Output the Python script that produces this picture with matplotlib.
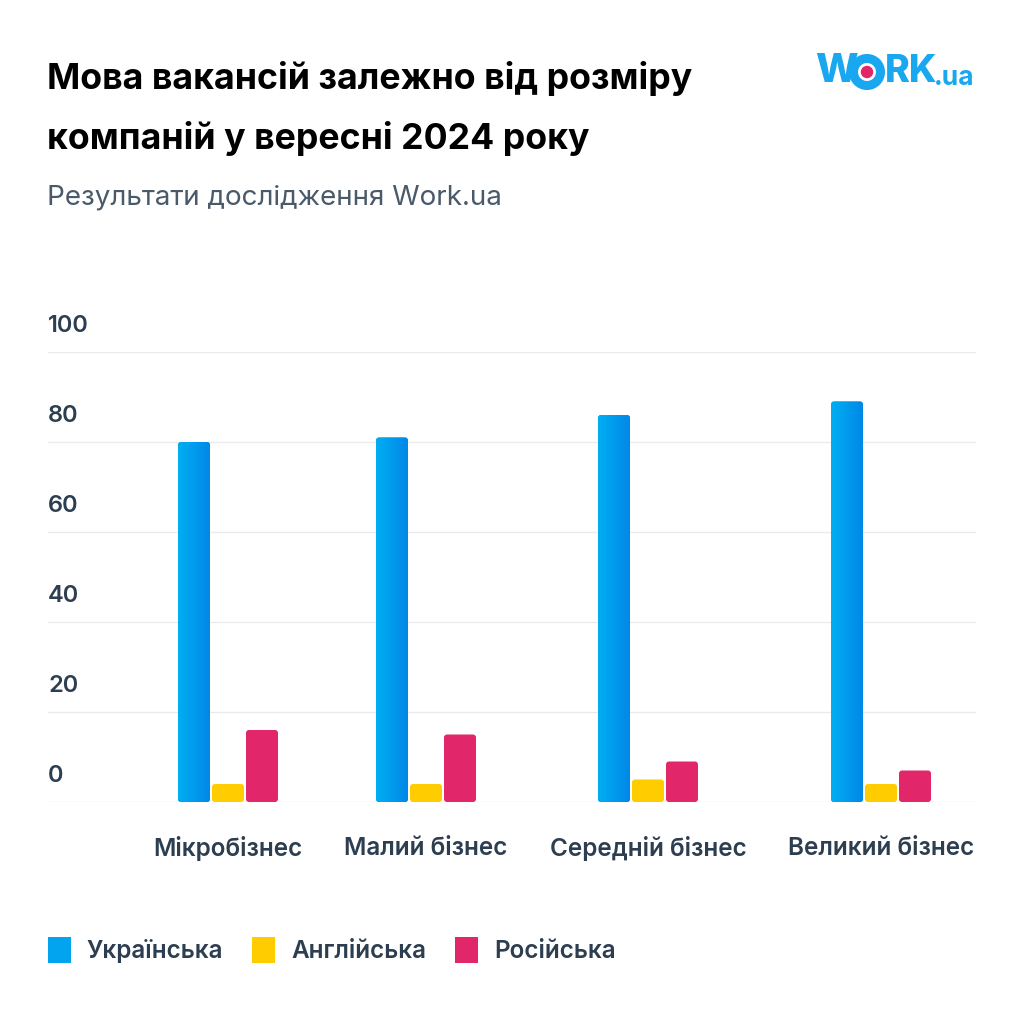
import matplotlib
matplotlib.use("Agg")
import matplotlib.pyplot as plt
import numpy as np
from matplotlib.patches import Circle, FancyBboxPatch, Patch
from matplotlib.colors import LinearSegmentedColormap

plt.rcParams['font.family'] = ['Inter', 'DejaVu Sans']

categories = ["Мікробізнес", "Малий бізнес", "Середній бізнес", "Великий бізнес"]
series_names = ["Українська", "Англійська", "Російська"]
ukrainian = [80, 81, 86, 89]
english = [4, 4, 5, 4]
russian = [16, 15, 9, 7]
y_ticks = [0, 20, 40, 60, 80, 100]

colors = ["#02a3ef", "#ffcc00", "#e2266a"]
text_col = "#2c3e50"
logo_col = "#19a7f0"

W = H = 1024
fig = plt.figure(figsize=(W / 100, H / 100), dpi=100)
fig.patch.set_facecolor("white")

def fx(px):
    return px / W

def fy(py):
    return 1 - py / H

# axes: x in pixel units so groups sit under their labels
ax = fig.add_axes([fx(48), fy(802), fx(976) - fx(48), fy(352) - fy(802)])
ax.set_xlim(48, 976)
ax.set_ylim(0, 100)
ax.axis("off")

for t in y_ticks:
    ax.axhline(t, color="#ebebeb", lw=1, zorder=0)
    ax.text(0, t + 3.3, str(t), transform=ax.get_yaxis_transform(),
            ha="left", va="bottom", fontsize=17, fontweight="semibold",
            color=text_col)

group_x = np.array([228, 426, 648, 881])
bw = 32
step = 34
grad = np.linspace(0, 1, 50).reshape(1, -1)
blue_cmap = LinearSegmentedColormap.from_list("b", ["#00aef2", "#0088e8"])
px_per_unit = 450 / 100

for i, (vals, c) in enumerate(zip([ukrainian, english, russian], colors)):
    bars = ax.bar(group_x + (i - 1) * step, vals, width=bw, color=c, zorder=2)
    for b in bars:
        b.set_visible(False)
        x0, y0 = b.get_x(), b.get_y()
        w, h = b.get_width(), b.get_height()
        fb = FancyBboxPatch((x0, y0), w, h,
                            boxstyle="round,pad=0,rounding_size=3",
                            mutation_aspect=1 / px_per_unit,
                            fc=c, ec="none", zorder=2)
        ax.add_patch(fb)
        if i == 0:
            im = ax.imshow(grad, cmap=blue_cmap, aspect="auto", zorder=3,
                           extent=[x0, x0 + w, y0, y0 + h])
            im.set_clip_path(fb)
ax.set_xlim(48, 976)
ax.set_ylim(0, 100)

for gx, lab in zip(group_x, categories):
    ax.text(gx, -10.3, lab, ha="center", va="center", fontsize=17.5,
            fontweight="semibold", color=text_col)

# title and subtitle
fig.text(fx(47), fy(79), "Мова вакансій залежно від розміру", fontsize=25.7,
         fontweight="bold", color="black", va="center", ha="left")
fig.text(fx(47), fy(138), "компаній у вересні 2024 року", fontsize=25.7,
         fontweight="bold", color="black", va="center", ha="left")
fig.text(fx(47), fy(198), "Результати дослідження Work.ua", fontsize=20,
         color="#4a5a6a", va="center", ha="left")

# logo
fig.text(fx(815), fy(72), "W", fontsize=29, fontweight="heavy",
         color=logo_col, va="center", ha="left")
fig.patches.append(Circle((fx(867), fy(72)), fx(13.5), transform=fig.transFigure,
                          fill=False, ec=logo_col, lw=6.5, zorder=5))
fig.patches.append(Circle((fx(867), fy(72)), fx(5.5), transform=fig.transFigure,
                          color="#e2266a", zorder=5))
fig.text(fx(885), fy(72), "RK", fontsize=27, fontweight="heavy",
         color=logo_col, va="center", ha="left")
fig.text(fx(934), fy(78), ".ua", fontsize=19, fontweight="bold",
         color=logo_col, va="center", ha="left")

handles = [Patch(facecolor=c, edgecolor="none", label=n)
           for c, n in zip(colors, series_names)]
fig.legend(handles=handles, loc="center left", bbox_to_anchor=(fx(48), fy(950)),
           ncol=3, frameon=False, borderpad=0, borderaxespad=0,
           handlelength=0.95, handleheight=1.3, handletextpad=0.64,
           columnspacing=1.2, labelcolor=text_col,
           prop={"weight": "semibold", "size": 17.5})

fig.savefig("out.png", dpi=100, facecolor="white")
